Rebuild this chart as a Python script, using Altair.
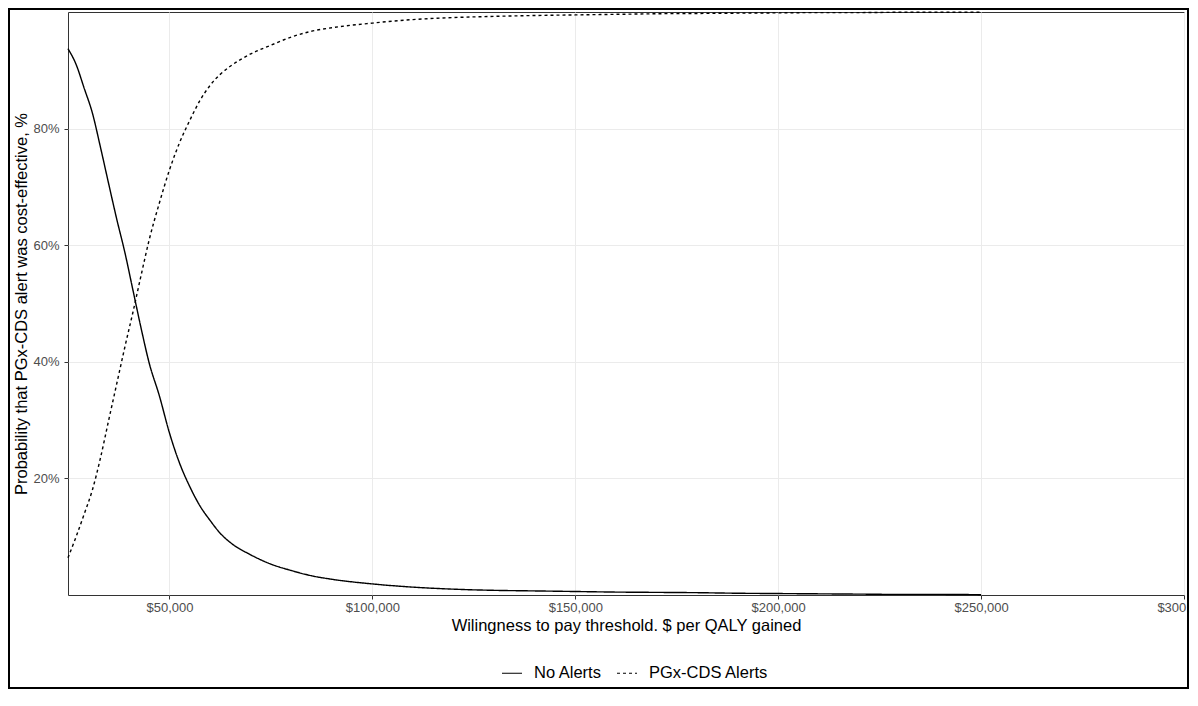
import altair as alt
import pandas as pd

thresholds = [25000, 27000, 29000, 31000, 33000, 35000, 37000, 39000, 41000, 43000,
              45000, 47500, 50000, 52500, 55000, 57500, 60000, 62500, 65000, 70000,
              75000, 80000, 85000, 90000, 100000, 110000, 120000, 130000, 140000, 150000,
              160000, 170000, 180000, 190000, 200000, 210000, 220000, 230000, 240000, 250000]

no_alerts = [93.7, 91.0, 86.9, 82.7, 76.8, 70.6, 64.5, 58.8, 52.3, 45.8,
             39.8, 34.2, 27.8, 22.6, 18.6, 15.3, 12.8, 10.6, 9.0, 6.9,
             5.3, 4.2, 3.3, 2.7, 1.9, 1.35, 1.0, 0.8, 0.7, 0.6,
             0.5, 0.45, 0.4, 0.3, 0.25, 0.2, 0.15, 0.1, 0.1, 0.05]

pgx_alerts = [6.4, 10.0, 13.9, 18.0, 23.5, 29.9, 36.2, 42.5, 48.5, 54.8,
              60.9, 67.2, 72.9, 77.6, 81.4, 84.8, 87.4, 89.3, 90.7, 92.8,
              94.3, 95.7, 96.7, 97.3, 98.1, 98.7, 99.05, 99.25, 99.4, 99.5,
              99.6, 99.7, 99.75, 99.8, 99.85, 99.9, 99.9, 99.95, 99.95, 99.95]

series_names = ["No Alerts", "PGx-CDS Alerts"]
x_ticks = [50000, 100000, 150000, 200000, 250000, 300000]
y_ticks = [20, 40, 60, 80]

rows = []
for t, a, b in zip(thresholds, no_alerts, pgx_alerts):
    rows.append({"wtp": t, "prob": a, "strategy": series_names[0]})
    rows.append({"wtp": t, "prob": b, "strategy": series_names[1]})
df = pd.DataFrame(rows)

W, H = 1116, 583
FONT = "Liberation Sans"

lines = alt.Chart(df).mark_line(color="black", strokeWidth=1.4, interpolate="monotone").encode(
    x=alt.X("wtp:Q",
            scale=alt.Scale(domain=[25000, 300000], nice=False, zero=False),
            axis=alt.Axis(values=x_ticks, format="$,.0f", labelFlush=False,
                          title="Wilingness to pay threshold. $ per QALY gained",
                          titlePadding=3, labelPadding=2)),
    y=alt.Y("prob:Q",
            scale=alt.Scale(domain=[0, 100], nice=False),
            axis=alt.Axis(values=y_ticks, labelExpr="datum.value + '%'", labelFlush=False,
                          title="Probability that PGx-CDS alert was cost-effective, %",
                          titlePadding=3, labelPadding=5)),
    strokeDash=alt.StrokeDash("strategy:N",
                              scale=alt.Scale(domain=series_names, range=[[1, 0], [3, 3]]),
                              legend=alt.Legend(title=None, orient="none", direction="horizontal",
                                                legendX=433, legendY=650,
                                                symbolType="stroke", symbolSize=400,
                                                symbolStrokeColor="black", symbolStrokeWidth=1.2,
                                                labelFontSize=16.5, labelFont=FONT, labelColor="black",
                                                labelOffset=11, columnPadding=12)),
)

frame_df = pd.DataFrame({"k": [0]})
frame = alt.Chart(frame_df).mark_rect(fill=None, stroke="black", strokeWidth=2).encode(
    x=alt.value(-59), x2=alt.value(W + 4), y=alt.value(-3), y2=alt.value(H + 93)
)

chart = alt.layer(lines, frame).properties(
    width=W, height=H,
    padding={"left": 60, "top": 4, "right": 6, "bottom": 95},
    autosize=alt.AutoSizeParams(type="none"),
    background="white",
).configure_view(
    stroke="#333333", strokeWidth=1
).configure_axis(
    domain=False,
    grid=True, gridColor="#ebebeb", gridWidth=1,
    ticks=True, tickColor="#333333", tickSize=4, tickWidth=1,
    labelFont=FONT, labelFontSize=13, labelColor="#4d4d4d",
    titleFont=FONT, titleFontSize=16.5, titleColor="black", titleFontWeight="normal",
)

chart.save("out.html", embed_options={"renderer": "svg", "actions": False})
